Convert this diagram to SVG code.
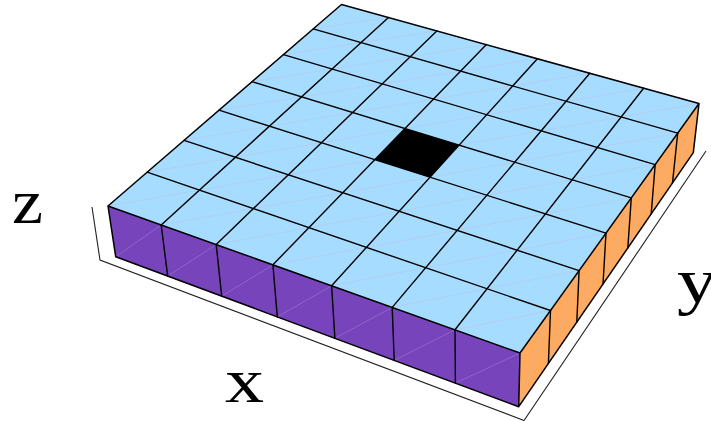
<svg xmlns="http://www.w3.org/2000/svg" width="711" height="421" viewBox="0 0 711 421">
<style>
.g{stroke:#000;stroke-width:1.4;fill:none;stroke-linecap:round}
.e{stroke:#000;stroke-width:1.5;fill:none;stroke-linejoin:round}
.d{stroke:#b6c8ea;stroke-width:.7;fill:none}
.dp{stroke:#9674cf;stroke-width:.7;fill:none}
.do{stroke:#d9b59a;stroke-width:.7;fill:none}
.a{stroke:#222;stroke-width:1.1;fill:none}
.t{font-family:"Liberation Serif",serif;font-size:64px;fill:#000}
</style>
<rect width="711" height="421" fill="#fff"/>
<g id="axes"><polyline class="a" points="92,207 100,260 524,420.5 706,151"/></g>
<g id="face-front"><polygon points="108,206 520,353 518.7,406.7 115.7,256.7" fill="#7744bb"/>
<path class="dp" d="M115.7 256.7L161.2 225M167.7 276.1L216.2 244.6M221.7 296.2L272.9 264.8M277.3 316.9L331.6 285.8M334.9 338.3L392.2 307.4M394.2 360.4L455 329.8M455.4 383.1L520 353"/></g>
<g id="face-right"><polygon points="520,353 699,103.5 693.3,152.7 518.7,406.7" fill="#ffaa5e"/>
<path class="do" d="M518.7 406.7L550.5 310.5M548.4 363.5L579.1 270.6M576.8 322.1L606 233.1M603 284L631.3 197.9M627.8 247.9L655.2 164.6M651.2 213.9L677.7 133.2M672.5 182.9L699 103.5"/></g>
<g id="face-top"><polygon points="108,206 520,353 699,103.5 341.5,4.5" fill="#a6dcff"/>
<path class="d" d="M108 206L699 103.5M161.2 225L677.7 133.2M216.2 244.6L655.2 164.6M272.9 264.8L631.3 197.9M331.6 285.8L606 233.1M392.2 307.4L579.1 270.6M455 329.8L550.5 310.5M147.1 172.2L643.6 88.2M184.1 140.4L589.8 73.2M219 110.2L537.4 58.7M252 81.7L486.4 44.6M283.4 54.6L436.8 30.9M313.2 28.9L388.5 17.5"/></g>
<g id="cell-black"><polygon points="374.8,159.7 430,177.2 459.1,145.1 405,128.6" fill="#000"/></g>
<g id="connectors">
<path class="g" d="M161.2 225L388.5 17.5M216.2 244.6L436.8 30.9M272.9 264.8L486.4 44.6M331.6 285.8L537.4 58.7M392.2 307.4L589.8 73.2M455 329.8L643.6 88.2"/>
<path class="g" d="M147.1 172.2L550.5 310.5M184.1 140.4L579.1 270.6M219 110.2L606 233.1M252 81.7L631.3 197.9M283.4 54.6L655.2 164.6M313.2 28.9L677.7 133.2"/>
<path class="g" d="M161.2 225L167.7 276.1M216.2 244.6L221.7 296.2M272.9 264.8L277.3 316.9M331.6 285.8L334.9 338.3M392.2 307.4L394.2 360.4M455 329.8L455.4 383.1"/>
<path class="g" d="M550.5 310.5L548.4 363.5M579.1 270.6L576.8 322.1M606 233.1L603 284M631.3 197.9L627.8 247.9M655.2 164.6L651.2 213.9M677.7 133.2L672.5 182.9"/>
<path class="e" d="M108 206L520 353L699 103.5L341.5 4.5ZM108 206L115.7 256.7L518.7 406.7L520 353M518.7 406.7L693.3 152.7L699 103.5"/>
</g>
<g id="label-x"><text class="t" x="225" y="402" textLength="39" lengthAdjust="spacingAndGlyphs">x</text></g>
<g id="label-y"><text class="t" x="677" y="302" textLength="40" lengthAdjust="spacingAndGlyphs">y</text></g>
<g id="label-z"><text class="t" x="12" y="223" textLength="31" lengthAdjust="spacingAndGlyphs">z</text></g>
</svg>
